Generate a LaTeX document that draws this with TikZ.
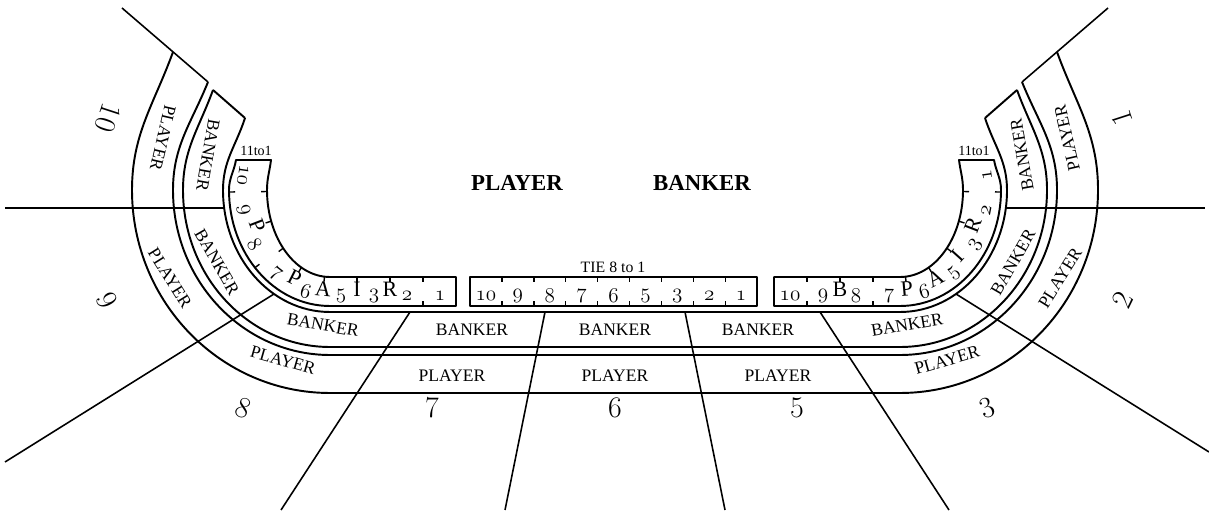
\documentclass[tikz,border=0pt]{standalone}
\usepackage{fontspec}
\usepackage{tikz}
\usetikzlibrary{calc}
\newfontfamily\bandfont{Liberation Serif}
\newcommand{\osn}[1]{\ensuremath{\mathnormal{#1}}}
\tikzset{
	edge/.style     ={line width=1.1pt, line join=round},
	divider/.style  ={line width=0.9pt},
	tickmark/.style ={line width=0.8pt},
	% text styles
	bandtxt/.style  ={font=\bandfont\fontsize{10}{10}\selectfont, inner sep=0pt},
	titletxt/.style ={font=\bandfont\bfseries\fontsize{13}{13}\selectfont, inner sep=0pt},
	secnum/.style   ={font=\fontsize{17}{17}\selectfont, inner sep=0pt},
	pairnum/.style  ={font=\fontsize{11.5}{11.5}\selectfont, inner sep=0pt},
	pairlet/.style  ={font=\bandfont\fontsize{12.5}{12.5}\selectfont, inner sep=0pt},
	oddstxt/.style  ={font=\bandfont\fontsize{8}{8}\selectfont, inner sep=0pt},
}

\begin{document}
\begin{tikzpicture}[x=0.02cm, y=0.02cm]
	\fill[white] (0,0) rectangle (1209,510);
	\useasboundingbox (0,0) rectangle (1209,510);
	\coordinate (L) at (330,320);
	\coordinate (R) at (900,320);

	% player and banker bands
	\draw[edge] (173,458) to[out=250,in=90] (132,320) arc[start angle=180,end angle=270,x radius=198,y radius=203]
		-- (900,117) arc[start angle=270,end angle=360,x radius=198,y radius=203] to[out=90,in=-70] (1057,458);
	\draw[edge] (208,428) to[out=248,in=90] (173,320) arc[start angle=180,end angle=270,x radius=157,y radius=165]
		-- (900,155) arc[start angle=270,end angle=360,x radius=157,y radius=165] to[out=90,in=-68] (1022,428);
	\draw[edge] (213,420) to[out=250,in=90] (183,320) arc[start angle=180,end angle=270,x radius=147,y radius=157]
		-- (900,163) arc[start angle=270,end angle=360,x radius=147,y radius=157] to[out=90,in=-70] (1017,420);
	\draw[edge] (245,392) to[out=252,in=90] (223,320) arc[start angle=180,end angle=270,x radius=107,y radius=122]
		-- (900,198) arc[start angle=270,end angle=360,x radius=107,y radius=122] to[out=90,in=-72] (985,392);
	\draw[edge] (213,420) -- (245,392);
	\draw[edge] (1017,420) -- (985,392);

	% pair strips and tie box
	\draw[edge] (456,233) -- (330,233) arc[start angle=270,end angle=180,x radius=63,y radius=87] to[out=90,in=263] (271,350)
		-- (236,350) to[out=260,in=90] (229,320) arc[start angle=180,end angle=270,x radius=101,y radius=116] -- (456,204) -- cycle;
	\draw[edge] (774,233) -- (900,233) arc[start angle=270,end angle=360,x radius=63,y radius=87] to[out=90,in=-83] (959,350)
		-- (994,350) to[out=280,in=90] (1001,320) arc[start angle=0,end angle=-90,x radius=101,y radius=116] -- (774,204) -- cycle;
	\draw[edge] (470,204) rectangle (757,233);

	% seat dividers
	\draw[divider] (122,502) -- (208,428);
	\draw[divider] (1108,502) -- (1022,428);
	\draw[divider] (5,302) -- (224,302);
	\draw[divider] (1006,302) -- (1205,302);
	\draw[divider] (274,216) -- (5,48);
	\draw[divider] (956,216) -- (1209,58);
	\draw[divider] (410,198) -- (281,0);
	\draw[divider] (545,198) -- (505,0);
	\draw[divider] (685,198) -- (725,0);
	\draw[divider] (820,198) -- (949,0);

	% ticks
	\foreach \k in {1,...,8} {
		\draw[tickmark] (470+31.9*\k,233) -- (470+31.9*\k,228);
		\draw[tickmark] (470+31.9*\k,204) -- (470+31.9*\k,209);
	}
	\foreach \x in {423,390,357,807,840,873} \draw[tickmark] (\x,233) -- (\x,228);
	\foreach \x in {423,807,873} \draw[tickmark] (\x,204) -- (\x,209);
	\begin{scope}[shift={(L)}]
		\foreach \t in {265,243,222,201,181} \draw[tickmark] (\t:63 and 87) -- (\t:69 and 92);
		\foreach \t in {222,181} \draw[tickmark] (\t:101 and 116) -- (\t:95 and 111);
	\end{scope}
	\begin{scope}[shift={(R)}]
		\foreach \t in {275,297,318,339,359} \draw[tickmark] (\t:63 and 87) -- (\t:69 and 92);
		\foreach \t in {359} \draw[tickmark] (\t:101 and 116) -- (\t:95 and 111);
	\end{scope}

	% strip labels
	\node[titletxt] (tp) at (517,327) {PLAYER};
	\node[titletxt] (tb) at (702,327) {BANKER};
	\node[oddstxt, font=\bandfont\fontsize{9}{9}\selectfont] (tie) at (613,243) {TIE 8 to 1};
	\node[oddstxt] (ol) at (256,359) {11to1};
	\node[oddstxt] (or) at (974,359) {11to1};
	\foreach \n [count=\i] in {10,9,8,7,6,5,3,2,1}
		\node[pairnum] (tn\i) at (470+31.9*\i-16,214) {\osn{\n}};
	\foreach \x/\n [count=\i] in {440/1,407/2,374/3,341/5,790/10,823/9,856/8,889/7}
		\node[pairnum] (sn\i) at (\x,214) {\osn{\n}};
	\node[pairlet] (lr) at (390,221) {R};
	\node[pairlet] (li) at (357,221) {I};
	\node[pairlet] (rb) at (840,221) {B};
	\begin{scope}[shift={(L)}]
		\foreach \t/\n [count=\i] in {254/6,232/7,211/8,191/9,172/10}
			\node[pairnum, rotate=\t-270] (ln\i) at (\t:88 and 106) {\osn{\n}};
		\foreach \t/\c [count=\i] in {265/A,243/P,201/P}
			\node[pairlet, rotate=\t-270] (ll\i) at (\t:78 and 99) {\c};
	\end{scope}
	\begin{scope}[shift={(R)}]
		\foreach \t/\n [count=\i] in {286/6,308/5,329/3,349/2,368/1}
			\node[pairnum, rotate=\t-270] (rn\i) at (\t:88 and 106) {\osn{\n}};
		\foreach \t/\c [count=\i] in {275/P,297/A,318/I,339/R}
			\node[pairlet, rotate=\t-270] (rl\i) at (\t:78 and 99) {\c};
	\end{scope}

	% bet labels
	\node[bandtxt, rotate=-103] (p10) at (163,372) {PLAYER};
	\node[bandtxt, rotate=-100] (b10) at (208,355) {BANKER};
	\node[bandtxt, rotate=-58]  (p9)  at (170,232) {PLAYER};
	\node[bandtxt, rotate=-60]  (b9)  at (217,248) {BANKER};
	\node[bandtxt, rotate=-16]  (p8)  at (283,150) {PLAYER};
	\node[bandtxt, rotate=-10]  (b8)  at (323,185) {BANKER};
	\node[bandtxt] (b7) at (472,180) {BANKER};
	\node[bandtxt] (b6) at (615,180) {BANKER};
	\node[bandtxt] (b5) at (758,180) {BANKER};
	\node[bandtxt] (p7) at (452,134) {PLAYER};
	\node[bandtxt] (p6) at (615,134) {PLAYER};
	\node[bandtxt] (p5) at (778,134) {PLAYER};
	\node[bandtxt, rotate=10]  (b3) at (907,185) {BANKER};
	\node[bandtxt, rotate=16]  (p3) at (947,150) {PLAYER};
	\node[bandtxt, rotate=60]  (b2) at (1013,248) {BANKER};
	\node[bandtxt, rotate=58]  (p2) at (1060,232) {PLAYER};
	\node[bandtxt, rotate=100] (b1) at (1022,355) {BANKER};
	\node[bandtxt, rotate=103] (p1) at (1067,372) {PLAYER};

	% seat numbers
	\node[secnum, rotate=-108] (s10) at (108,392) {10};
	\node[secnum, rotate=-64]  (s9)  at (107,210) {9};
	\node[secnum, rotate=-22]  (s8)  at (243,102) {8};
	\node[secnum] (s7) at (432,102) {7};
	\node[secnum] (s6) at (615,102) {6};
	\node[secnum] (s5) at (797,102) {5};
	\node[secnum, rotate=22]  (s3) at (987,102) {3};
	\node[secnum, rotate=64]  (s2) at (1123,210) {2};
	\node[secnum, rotate=108] (s1) at (1122,392) {1};
\end{tikzpicture}
\end{document}
